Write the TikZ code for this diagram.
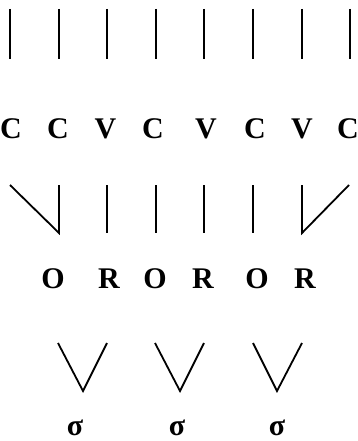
\documentclass[tikz,border=0pt]{standalone}
\usepackage{fontspec}
\setmainfont{Liberation Serif}
\newcommand{\bigletters}{\fontsize{30}{32}\selectfont\bfseries}
\begin{document}
\begin{tikzpicture}[x=1pt,y=-1pt,
  seg/.style={font=\bigletters, anchor=base, inner sep=0pt},
  syl/.style={font=\bigletters, anchor=base, inner sep=0pt},
  assoc/.style={line width=1.8pt, line cap=butt, line join=miter}]
\useasboundingbox (0,0) rectangle (358,441);
% top association lines
\foreach \i/\x in {1/10,2/59,3/107,4/156,5/204,6/253,7/302,8/350}{
  \coordinate (t\i) at (\x,9);
  \coordinate (b\i) at (\x,59);
  \draw[assoc] (t\i) -- (b\i);
}
% CV tier
\node[seg] (c1) at (11,138) {C};
\node[seg] (c2) at (58,138) {C};
\node[seg] (v3) at (105.5,138) {V};
\node[seg] (c4) at (153,138) {C};
\node[seg] (v5) at (206,138) {V};
\node[seg] (c6) at (255,138) {C};
\node[seg] (v7) at (302,138) {V};
\node[seg] (c8) at (348,138) {C};
% second row lines
\coordinate (d1) at (10,185);
\coordinate (e1) at (59,233);
\coordinate (d2) at (59,185);
\draw[assoc] (d1) -- (e1) -- (d2);
\foreach \i/\x in {3/107,4/156,5/204,6/253}{
  \coordinate (d\i) at (\x,185);
  \coordinate (e\i) at (\x,233);
  \draw[assoc] (d\i) -- (e\i);
}
\coordinate (d7) at (302,185);
\coordinate (e7) at (302,233);
\coordinate (d8) at (349,185);
\draw[assoc] (d7) -- (e7) -- (d8);
% onset/rhyme tier
\node[syl] (o1) at (53,288) {O};
\node[syl] (r1) at (109,288) {R};
\node[syl] (o2) at (155,288) {O};
\node[syl] (r2) at (203,288) {R};
\node[syl] (o3) at (257,288) {O};
\node[syl] (r3) at (305,288) {R};
% syllable lines
\foreach \i/\a/\m/\b in {1/58/83/107,2/155/180/204,3/253/277/302}{
  \coordinate (vl\i) at (\a,343);
  \coordinate (vm\i) at (\m,391);
  \coordinate (vr\i) at (\b,343);
  \draw[assoc] (vl\i) -- (vm\i) -- (vr\i);
}
% sigma tier
\node[syl] (s1) at (75,435) {σ};
\node[syl] (s2) at (177,435) {σ};
\node[syl] (s3) at (277,435) {σ};
\end{tikzpicture}
\end{document}
